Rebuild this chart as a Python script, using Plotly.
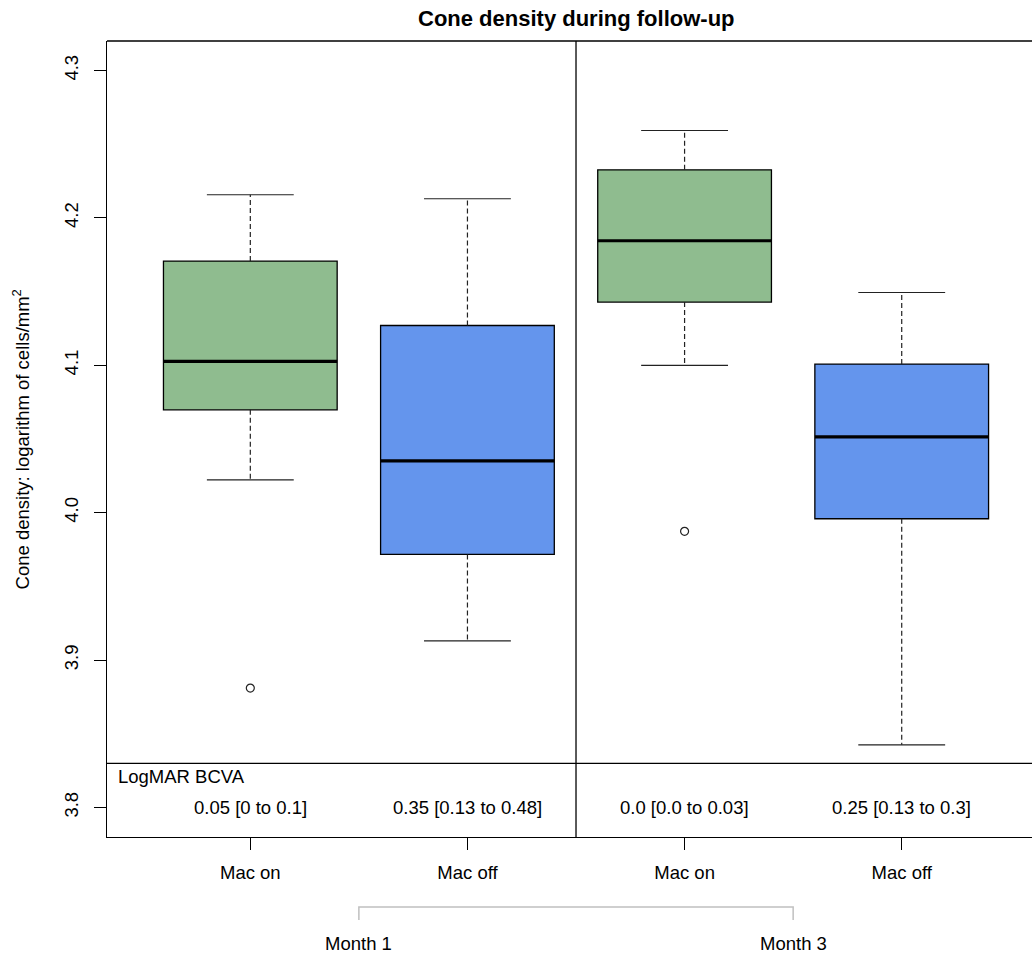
import plotly.graph_objects as go

# ---------------- data ----------------
categories = ["Mac on", "Mac off", "Mac on", "Mac off"]
positions = [1, 2, 3, 4]
months = ["Month 1", "Month 3"]
month_positions = [1.5, 3.5]

upper_whisker = [4.2157, 4.2130, 4.2593, 4.1494]
q3 = [4.1707, 4.1270, 4.2326, 4.1008]
median = [4.1026, 4.0352, 4.1845, 4.0515]
q1 = [4.0698, 3.9717, 4.1429, 3.9959]
lower_whisker = [4.0223, 3.9131, 4.0999, 3.8425]
outliers = [[3.8810], [], [3.9874], []]

logmar_label = "LogMAR BCVA"
logmar_values = ["0.05 [0 to 0.1]", "0.35 [0.13 to 0.48]", "0.0 [0.0 to 0.03]", "0.25 [0.13 to 0.3]"]

y_ticks = [3.8, 3.9, 4.0, 4.1, 4.2, 4.3]

# ---------------- styling ----------------
FONT = "Liberation Sans, Arial, sans-serif"
FS = 18.5
colors = ["#8FBC8F", "#6495ED", "#8FBC8F", "#6495ED"]
box_half = 0.4
cap_half = 0.2
x_range = [0.34, 4.60]
y_range = [3.78, 4.32]
table_line_y = 3.83
logmar_label_y = 3.821
divider_x = 2.5

fig = go.Figure()

# boxes (bars from q1 to q3)
for i, p in enumerate(positions):
    fig.add_trace(go.Bar(
        x=[p], y=[q3[i] - q1[i]], base=[q1[i]], width=2 * box_half,
        marker=dict(color=colors[i], line=dict(color="#000000", width=1.3)),
        showlegend=False, hoverinfo="skip"))

# whiskers (dashed)
for i, p in enumerate(positions):
    fig.add_trace(go.Scatter(
        x=[p, p, None, p, p], y=[q3[i], upper_whisker[i], None, q1[i], lower_whisker[i]],
        mode="lines", line=dict(color="#222222", width=1.2, dash="5px,3px"),
        showlegend=False, hoverinfo="skip"))
    # caps
    fig.add_trace(go.Scatter(
        x=[p - cap_half, p + cap_half, None, p - cap_half, p + cap_half],
        y=[upper_whisker[i], upper_whisker[i], None, lower_whisker[i], lower_whisker[i]],
        mode="lines", line=dict(color="#222222", width=1.2),
        showlegend=False, hoverinfo="skip"))
    # median
    fig.add_trace(go.Scatter(
        x=[p - box_half, p + box_half], y=[median[i], median[i]],
        mode="lines", line=dict(color="#000000", width=3.2),
        showlegend=False, hoverinfo="skip"))
    # outliers
    if outliers[i]:
        fig.add_trace(go.Scatter(
            x=[p] * len(outliers[i]), y=outliers[i], mode="markers",
            marker=dict(symbol="circle-open", size=8, color="#222222", line=dict(width=1.2)),
            showlegend=False, hoverinfo="skip"))

shapes = []
# top border
shapes.append(dict(type="line", xref="paper", yref="paper", x0=0, x1=1, y0=1, y1=1,
                   line=dict(color="#000000", width=1.3)))
# month divider
shapes.append(dict(type="line", xref="x", yref="paper", x0=divider_x, x1=divider_x, y0=0, y1=1,
                   line=dict(color="#000000", width=1.3)))
# table separator
shapes.append(dict(type="line", xref="paper", yref="y", x0=0, x1=1, y0=table_line_y, y1=table_line_y,
                   line=dict(color="#000000", width=1.3)))


def xp(v):
    return (v - x_range[0]) / (x_range[1] - x_range[0])


# month bracket below axis
b_top = -0.0879
b_bot = -0.1043
shapes.append(dict(type="path", xref="paper", yref="paper",
                   path=f"M {xp(month_positions[0])},{b_bot} L {xp(month_positions[0])},{b_top} "
                        f"L {xp(month_positions[1])},{b_top} L {xp(month_positions[1])},{b_bot}",
                   line=dict(color="#C0C0C0", width=1.5)))

annotations = []
# title
annotations.append(dict(text="<b>Cone density during follow-up</b>", xref="x", yref="paper",
                        x=divider_x, y=1.0285, xanchor="center", yanchor="middle", showarrow=False,
                        font=dict(family=FONT, size=22, color="#000000")))
# y axis title
annotations.append(dict(text="Cone density: logarithm of cells/mm<sup>2</sup>", xref="paper", yref="paper",
                        x=-0.0925, y=0.5, xanchor="center", yanchor="middle", textangle=-90,
                        showarrow=False, font=dict(family=FONT, size=FS, color="#000000")))
# table header
annotations.append(dict(text=logmar_label, xref="paper", yref="y", x=0, y=logmar_label_y,
                        xanchor="left", yanchor="middle", xshift=9, showarrow=False,
                        font=dict(family=FONT, size=FS, color="#000000")))
# table values
for p, t in zip(positions, logmar_values):
    annotations.append(dict(text=t, xref="x", yref="y", x=p, y=y_ticks[0],
                            xanchor="center", yanchor="middle", showarrow=False,
                            font=dict(family=FONT, size=FS, color="#000000")))
# month labels
for p, m in zip(month_positions, months):
    annotations.append(dict(text=m, xref="x", yref="paper", x=p, y=-0.1332,
                            xanchor="center", yanchor="middle", showarrow=False,
                            font=dict(family=FONT, size=FS, color="#000000")))

fig.update_layout(
    width=1032, height=954,
    margin=dict(l=107, r=0, t=41, b=117),
    paper_bgcolor="white", plot_bgcolor="white",
    barmode="overlay",
    showlegend=False,
    font=dict(family=FONT, size=FS, color="#000000"),
    shapes=shapes,
    annotations=annotations,
    xaxis=dict(range=x_range, tickvals=positions, ticktext=categories,
               showgrid=False, zeroline=False, showline=True, linecolor="#000000", linewidth=1.3,
               ticks="outside", ticklen=12, tickwidth=1.1, tickcolor="#000000",
               tickfont=dict(family=FONT, size=FS, color="#000000"), ticklabelstandoff=7),
    yaxis=dict(range=y_range, tickvals=y_ticks, ticktext=[f"{v:.1f}" for v in y_ticks],
               showgrid=False, zeroline=False, showline=True, linecolor="#000000", linewidth=1.3,
               ticks="outside", ticklen=12, tickwidth=1.1, tickcolor="#000000", tickangle=-90,
               tickfont=dict(family=FONT, size=FS, color="#000000"), ticklabelstandoff=8),
)

fig.write_html(
    "out.html",
    config={"displayModeBar": False},
    post_script="document.body.style.margin='0';document.body.style.overflow='hidden';",
)
